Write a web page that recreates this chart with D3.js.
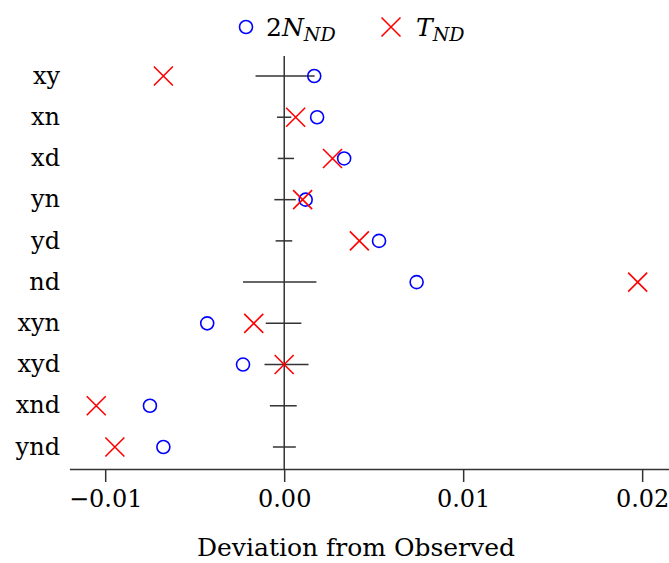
<!DOCTYPE html>
<html>
<head>
<meta charset="utf-8">
<script src="https://cdn.jsdelivr.net/npm/d3@7"></script>
<style>
  body { margin: 0; background: #fff; }
</style>
</head>
<body>
<svg id="chart"></svg>
<script>
var categories = ["xy", "xn", "xd", "yn", "yd", "nd", "xyn", "xyd", "xnd", "ynd"];
var nValues = [0.00168, 0.00184, 0.00335, 0.0012, 0.0053, 0.0074, -0.0043, -0.0023, -0.0075, -0.00675];
var tValues = [-0.00675, 0.00064, 0.0027, 0.00103, 0.0042, 0.01975, -0.0017, 0.0, -0.0105, -0.00946];
var errLow = [-0.0016, -0.0004, -0.00036, -0.00055, -0.00048, -0.0023, -0.00103, -0.0011, -0.0008, -0.00063];
var errHigh = [0.0017, 0.0004, 0.00055, 0.00065, 0.00045, 0.0018, 0.00096, 0.00136, 0.0007, 0.00065];
var xTicks = [-0.01, 0.0, 0.01, 0.02];

var width = 669, height = 563;
var axisY = 469;
var serif = "'DejaVu Serif', serif";

var svg = d3.select("#chart").attr("width", width).attr("height", height);

var xScale = d3.scaleLinear().domain([-0.012, 0.0215]).range([69.4, 669]);
var yScale = d3.scalePoint().domain(categories).range([76, 447]);

// reference line at zero
svg.append("line")
  .attr("x1", xScale(0)).attr("x2", xScale(0))
  .attr("y1", 56).attr("y2", axisY)
  .attr("stroke", "#000").attr("stroke-width", 1.2);

// error bars
svg.selectAll(".err").data(categories).enter().append("line")
  .attr("class", "err")
  .attr("x1", function (d, i) { return xScale(errLow[i]); })
  .attr("x2", function (d, i) { return xScale(errHigh[i]); })
  .attr("y1", function (d) { return yScale(d); })
  .attr("y2", function (d) { return yScale(d); })
  .attr("stroke", "#333").attr("stroke-width", 1.5);

// 2N_ND circles
svg.selectAll(".ncirc").data(categories).enter().append("circle")
  .attr("class", "ncirc")
  .attr("cx", function (d, i) { return xScale(nValues[i]); })
  .attr("cy", function (d) { return yScale(d); })
  .attr("r", 6.5)
  .attr("fill", "none").attr("stroke", "#0000ff").attr("stroke-width", 1.6);

// T_ND crosses
var cross = "M-9.5,-9.5L9.5,9.5M-9.5,9.5L9.5,-9.5";
svg.selectAll(".tcross").data(categories).enter().append("path")
  .attr("class", "tcross")
  .attr("d", cross)
  .attr("transform", function (d, i) {
    return "translate(" + xScale(tValues[i]) + "," + yScale(d) + ")";
  })
  .attr("fill", "none").attr("stroke", "#ff0000").attr("stroke-width", 1.6);

// category labels
svg.selectAll(".cat").data(categories).enter().append("text")
  .attr("class", "cat")
  .attr("x", 60)
  .attr("y", function (d) { return yScale(d); })
  .attr("dy", "0.32em")
  .attr("text-anchor", "end")
  .attr("font-family", serif)
  .attr("font-size", 24)
  .text(function (d) { return d; });

// x axis
var xAxis = d3.axisBottom(xScale)
  .tickValues(xTicks)
  .tickFormat(d3.format(".2f"))
  .tickSizeInner(13)
  .tickSizeOuter(0)
  .tickPadding(8);

var gx = svg.append("g")
  .attr("transform", "translate(0," + axisY + ")")
  .call(xAxis)
  .attr("font-family", serif)
  .attr("font-size", 24);
gx.select(".domain").attr("stroke", "#333").attr("stroke-width", 1.5);
gx.selectAll(".tick line").attr("stroke", "#333").attr("stroke-width", 1.5);
gx.selectAll(".tick text").attr("fill", "#000");

svg.append("text")
  .attr("x", 356).attr("y", 556)
  .attr("text-anchor", "middle")
  .attr("font-family", serif)
  .attr("font-size", 25)
  .text("Deviation from Observed");

// legend
var lg = svg.append("g").attr("font-family", serif);
lg.append("circle")
  .attr("cx", 246).attr("cy", 27).attr("r", 6.5)
  .attr("fill", "none").attr("stroke", "#0000ff").attr("stroke-width", 1.6);
var t1 = lg.append("text").attr("x", 266).attr("y", 36).attr("font-size", 25);
t1.append("tspan").text("2");
t1.append("tspan").attr("font-style", "italic").text("N");
t1.append("tspan").attr("dy", 5).attr("font-style", "italic").attr("font-size", 19).text("ND");

lg.append("path")
  .attr("d", cross)
  .attr("transform", "translate(391,27)")
  .attr("fill", "none").attr("stroke", "#ff0000").attr("stroke-width", 1.6);
var t2 = lg.append("text").attr("x", 416).attr("y", 36).attr("font-size", 25);
t2.append("tspan").attr("font-style", "italic").text("T");
t2.append("tspan").attr("dy", 5).attr("font-style", "italic").attr("font-size", 19).text("ND");
</script>
</body>
</html>
